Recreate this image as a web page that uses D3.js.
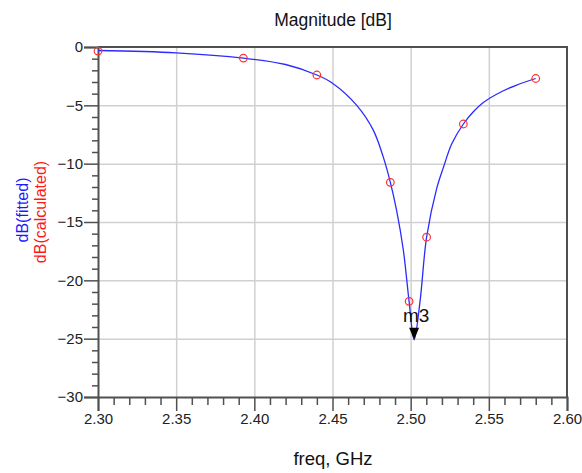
<!DOCTYPE html>
<html lang="en">

<head>
  <meta charset="UTF-8">
  <title>Magnitude [dB]</title>
  <script src="https://cdn.jsdelivr.net/npm/d3@7/dist/d3.min.js"></script>
  <style>
    body { margin: 0; background: #fff; }
    text { font-family: "Liberation Sans", Arial, sans-serif; }
  </style>
</head>

<body>
  <svg width="582" height="473"></svg>
  <script>
    // data
    var freqTicks = [2.30, 2.35, 2.40, 2.45, 2.50, 2.55, 2.60]
    var dbTicks = [0, -5, -10, -15, -20, -25, -30]

    // red circles: dB(calculated)
    var calcFreq = [2.300, 2.393, 2.440, 2.487, 2.499, 2.5102, 2.5337, 2.580]
    var calcDb = [-0.35, -0.95, -2.4, -11.6, -21.8, -16.3, -6.6, -2.7]

    // blue line: dB(fitted)
    var fitFreq = [2.300, 2.350, 2.393, 2.420, 2.440, 2.450, 2.4655, 2.476, 2.4824, 2.487, 2.491, 2.4953, 2.499,
      2.5022, 2.506, 2.5102, 2.5167, 2.521, 2.5263, 2.5337, 2.5401, 2.5465, 2.5593, 2.5678, 2.580]
    var fitDb = [-0.30, -0.50, -0.95, -1.50, -2.40, -3.10, -5.0, -7.1, -9.4, -11.6, -14.0, -17.4, -21.8,
      -25.1, -21.8, -16.3, -12.1, -10.3, -8.3, -6.6, -5.55, -4.75, -3.75, -3.26, -2.70]

    var markerName = 'm3'
    var markerFreq = 2.5022
    var markerDb = -25.1

    var svg = d3.select('svg')
    // plot box (not "top": that name is taken by window.top)
    var pLeft = 98, pRight = 567, pTop = 47, pBottom = 397

    var x = d3.scaleLinear().domain([2.30, 2.60]).range([pLeft, pRight])
    var y = d3.scaleLinear().domain([0, -30]).range([pTop, pBottom])

    var axisColor = '#505050'
    var gridColor = '#d0d0d0'

    // grid
    svg.append('g')
      .attr('transform', `translate(0,${pBottom})`)
      .call(d3.axisBottom(x).tickValues(freqTicks.slice(1, -1)).tickSize(-(pBottom - pTop)).tickFormat(''))
      .call(g => g.select('.domain').remove())
      .call(g => g.selectAll('line').attr('stroke', gridColor).attr('stroke-width', 1.5))
    svg.append('g')
      .attr('transform', `translate(${pLeft},0)`)
      .call(d3.axisLeft(y).tickValues(dbTicks.slice(1, -1)).tickSize(-(pRight - pLeft)).tickFormat(''))
      .call(g => g.select('.domain').remove())
      .call(g => g.selectAll('line').attr('stroke', gridColor).attr('stroke-width', 1.5))

    // minor ticks
    var minorX = d3.range(2.30, 2.6001, 0.01).filter(v => !freqTicks.some(t => Math.abs(t - v) < 1e-6))
    svg.append('g')
      .attr('transform', `translate(0,${pBottom})`)
      .call(d3.axisBottom(x).tickValues(minorX).tickSize(8).tickFormat(''))
      .call(g => g.select('.domain').remove())
      .call(g => g.selectAll('line').attr('stroke', axisColor).attr('stroke-width', 1.5))
    var minorY = d3.range(0, -30.001, -1).filter(v => v % 5 !== 0)
    svg.append('g')
      .attr('transform', `translate(${pLeft},0)`)
      .call(d3.axisLeft(y).tickValues(minorY).tickSize(6).tickFormat(''))
      .call(g => g.select('.domain').remove())
      .call(g => g.selectAll('line').attr('stroke', axisColor).attr('stroke-width', 1.5))

    // main axes
    svg.append('g')
      .attr('transform', `translate(0,${pBottom})`)
      .call(d3.axisBottom(x).tickValues(freqTicks).tickSize(14).tickPadding(2).tickFormat(d3.format('.2f')))
      .call(g => g.select('.domain').attr('stroke', axisColor).attr('stroke-width', 2))
      .call(g => g.selectAll('line').attr('stroke', axisColor).attr('stroke-width', 1.5))
      .call(g => g.selectAll('text').attr('font-size', 15).attr('fill', '#222'))
    svg.append('g')
      .attr('transform', `translate(${pLeft},0)`)
      .call(d3.axisLeft(y).tickValues(dbTicks).tickSize(14).tickPadding(1).tickFormat(d3.format('d')))
      .call(g => g.select('.domain').attr('stroke', axisColor).attr('stroke-width', 2))
      .call(g => g.selectAll('line').attr('stroke', axisColor).attr('stroke-width', 1.5))
      .call(g => g.selectAll('text').attr('font-size', 15).attr('fill', '#222'))

    // top and right border
    svg.append('path')
      .attr('d', `M${pLeft},${pTop}H${pRight}V${pBottom}`)
      .attr('fill', 'none')
      .attr('stroke', axisColor)
      .attr('stroke-width', 2)

    // fitted curve
    var line = d3.line()
      .x(d => x(d[0]))
      .y(d => y(d[1]))
      .curve(d3.curveCatmullRom.alpha(0.5))
    svg.append('path')
      .datum(d3.zip(fitFreq, fitDb))
      .attr('d', line)
      .attr('fill', 'none')
      .attr('stroke', '#2b2bff')
      .attr('stroke-width', 1.3)

    // calculated points
    svg.append('g')
      .selectAll('circle')
      .data(d3.zip(calcFreq, calcDb))
      .enter()
      .append('circle')
      .attr('cx', d => x(d[0]))
      .attr('cy', d => y(d[1]))
      .attr('r', 3.8)
      .attr('fill', 'none')
      .attr('stroke', '#ff3030')
      .attr('stroke-width', 1.2)

    // marker
    var mx = x(markerFreq), my = y(markerDb)
    svg.append('path')
      .attr('d', `M${mx - 5},${my - 12}L${mx + 5},${my - 12}L${mx},${my}Z`)
      .attr('fill', '#000')
    svg.append('text')
      .attr('x', mx + 2)
      .attr('y', my - 18)
      .attr('text-anchor', 'middle')
      .attr('font-size', 19)
      .attr('fill', '#111')
      .text(markerName)

    // titles
    svg.append('text')
      .attr('x', 333).attr('y', 26)
      .attr('text-anchor', 'middle')
      .attr('font-size', 17.5)
      .attr('fill', '#111')
      .text('Magnitude [dB]')
    svg.append('text')
      .attr('x', 333).attr('y', 465)
      .attr('text-anchor', 'middle')
      .attr('font-size', 18.5)
      .attr('fill', '#111')
      .text('freq, GHz')
    svg.append('text')
      .attr('transform', 'translate(28,210) rotate(-90)')
      .attr('text-anchor', 'middle')
      .attr('font-size', 16)
      .attr('fill', '#1a1aff')
      .text('dB(fitted)')
    svg.append('text')
      .attr('transform', 'translate(46,212) rotate(-90)')
      .attr('text-anchor', 'middle')
      .attr('font-size', 16)
      .attr('fill', '#ff1a1a')
      .text('dB(calculated)')
  </script>
</body>

</html>
